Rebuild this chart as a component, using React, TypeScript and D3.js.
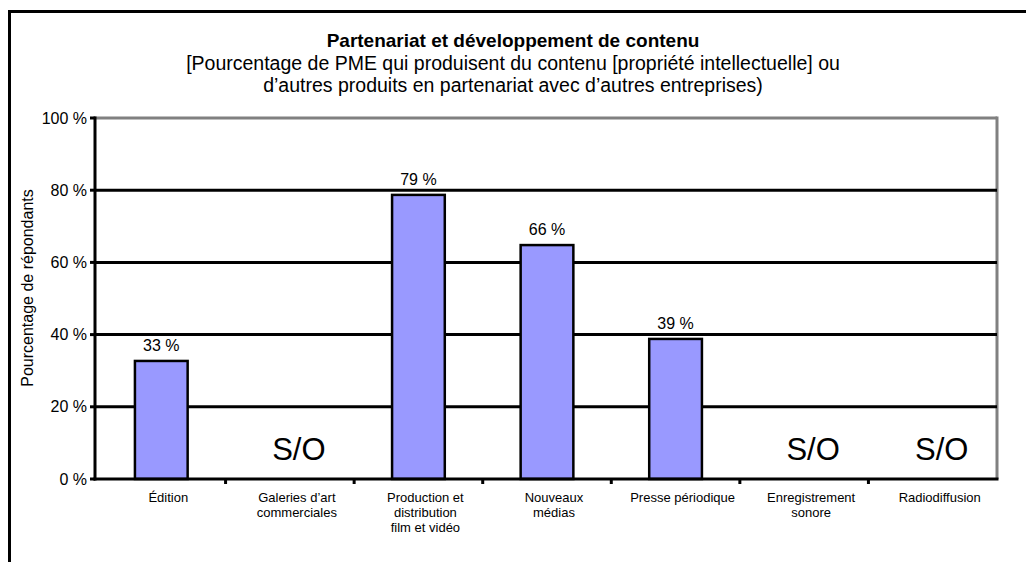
import React from "react";
import * as d3 from "d3";

const categories: string[][] = [
  ["Édition"],
  ["Galeries d’art", "commerciales"],
  ["Production et", "distribution", "film et vidéo"],
  ["Nouveaux", "médias"],
  ["Presse périodique"],
  ["Enregistrement", "sonore"],
  ["Radiodiffusion"],
];
const values: (number | null)[] = [32.7, null, 78.7, 64.8, 38.8, null, null];
const valueLabels: string[] = ["33 %", "S/O", "79 %", "66 %", "39 %", "S/O", "S/O"];
const yTicks: number[] = [0, 20, 40, 60, 80, 100];

const title = "Partenariat et développement de contenu";
const subtitle = [
  "[Pourcentage de PME qui produisent du contenu [propriété intellectuelle] ou",
  "d’autres produits en partenariat avec d’autres entreprises)",
];
const yTitle = "Pourcentage de répondants";

const W = 1026;
const H = 562;
const FONT = "Arial, 'Liberation Sans', sans-serif";

export default function App() {
  const left = 95;
  const right = 997;
  const top = 118;
  const bottom = 479;

  const x = d3
    .scaleBand<number>()
    .domain(d3.range(categories.length))
    .range([left + 2, right])
    .padding(0);
  const y = d3.scaleLinear().domain([0, 100]).range([bottom, top]);
  const bw = x.bandwidth() * 0.41;

  return (
    <svg
      width={W}
      height={H}
      style={{ position: "absolute", left: 0, top: 0, background: "#fff", fontFamily: FONT }}
    >
      <rect x={0} y={0} width={W} height={H} fill="#fff" />
      {/* outer frame */}
      <line x1={9.5} y1={11.5} x2={W} y2={11.5} stroke="#000" strokeWidth={3} />
      <line x1={9.5} y1={10} x2={9.5} y2={H} stroke="#000" strokeWidth={3} />

      {/* title */}
      <text x={513} y={47} textAnchor="middle" fontWeight="bold" fontSize={19} fill="#000">
        {title}
      </text>
      {subtitle.map((s, i) => (
        <text key={i} x={513} y={69.5 + i * 22} textAnchor="middle" fontSize={19.5} fill="#000">
          {s}
        </text>
      ))}

      {/* plot frame top/right */}
      <line x1={left} y1={y(100)} x2={right} y2={y(100)} stroke="#808080" strokeWidth={3} />
      <line x1={right} y1={y(100) - 1.5} x2={right} y2={bottom} stroke="#808080" strokeWidth={3} />

      {/* gridlines */}
      {yTicks
        .filter((t) => t > 0 && t < 100)
        .map((t) => (
          <line key={t} x1={left} y1={y(t)} x2={right} y2={y(t)} stroke="#000" strokeWidth={3} />
        ))}

      {/* bars */}
      {values.map((v, i) =>
        v == null ? null : (
          <rect
            key={i}
            x={(x(i) as number) + x.bandwidth() / 2 - bw / 2}
            y={y(v)}
            width={bw}
            height={bottom - y(v)}
            fill="#9999FF"
            stroke="#000"
            strokeWidth={2.5}
          />
        )
      )}

      {/* value labels */}
      {values.map((v, i) =>
        v == null ? (
          <text
            key={i}
            x={(x(i) as number) + x.bandwidth() / 2 + 9}
            y={460}
            textAnchor="middle"
            fontSize={31}
            fill="#000"
          >
            {valueLabels[i]}
          </text>
        ) : (
          <text
            key={i}
            x={(x(i) as number) + x.bandwidth() / 2}
            y={y(v) - 10}
            textAnchor="middle"
            fontSize={16}
            fill="#000"
          >
            {valueLabels[i]}
          </text>
        )
      )}

      {/* axes */}
      <line x1={left} y1={y(100) - 1.5} x2={left} y2={bottom + 1.5} stroke="#000" strokeWidth={3} />
      <line x1={left - 1.5} y1={bottom} x2={right + 1.5} y2={bottom} stroke="#000" strokeWidth={3} />
      {yTicks.map((t) => (
        <g key={t}>
          <line x1={left - 5} y1={y(t)} x2={left} y2={y(t)} stroke="#000" strokeWidth={3} />
          <text x={87} y={y(t)} dy="0.35em" textAnchor="end" fontSize={16} fill="#000">
            {`${t} %`}
          </text>
        </g>
      ))}
      {d3.range(1, categories.length).map((i) => (
        <line
          key={i}
          x1={x(i) as number}
          y1={bottom}
          x2={x(i) as number}
          y2={bottom + 5}
          stroke="#000"
          strokeWidth={3}
        />
      ))}

      {/* category labels */}
      {categories.map((lines, i) => (
        <text
          key={i}
          x={(x(i) as number) + x.bandwidth() / 2 + 7}
          y={502}
          textAnchor="middle"
          fontSize={13}
          fill="#000"
        >
          {lines.map((l, j) => (
            <tspan key={j} x={(x(i) as number) + x.bandwidth() / 2 + 7} dy={j === 0 ? 0 : 15}>
              {l}
            </tspan>
          ))}
        </text>
      ))}

      {/* y title */}
      <text
        transform={`translate(33, 288) rotate(-90)`}
        textAnchor="middle"
        fontSize={16}
        fill="#000"
      >
        {yTitle}
      </text>
    </svg>
  );
}
